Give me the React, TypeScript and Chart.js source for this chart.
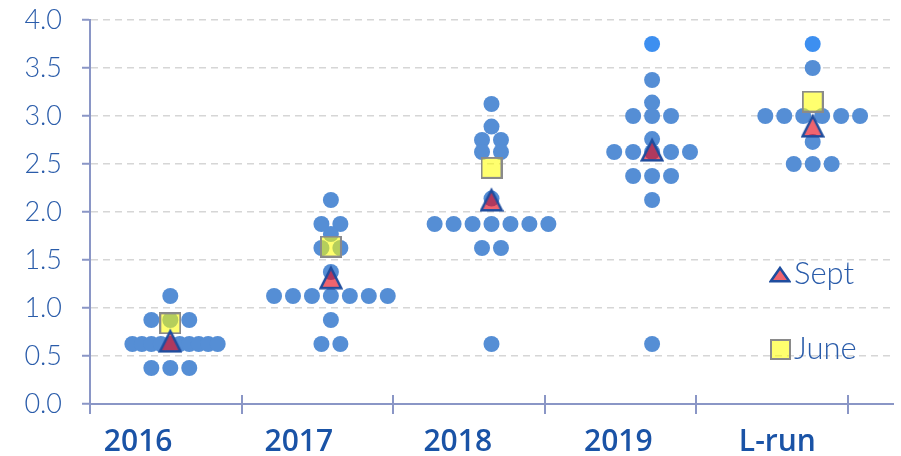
import { useEffect, useRef } from 'react';
import { Chart, registerables } from 'chart.js';

Chart.register(...registerables);

// ---------- data ----------
const CATEGORIES = ['2016', '2017', '2018', '2019', 'L-run'];
// positions (in category units)
const LABEL_POS = [0.3, 1.3, 2.29, 3.29, 4.28];
const TICK_MARKS = [0, 0.946, 1.887, 2.833, 3.773, 4.72];

// dots: horizontal slot (in dot widths from the column centre) and value
const DOTS_2016_SLOT = [0, -1, 0, 1, -2, -1.5, -1, -0.5, 0, 0.5, 1, 1.5, 2, 2.5, -1, 0, 1];
const DOTS_2016_VAL = [1.125, 0.875, 0.875, 0.875, 0.625, 0.625, 0.625, 0.625, 0.625, 0.625, 0.625, 0.625, 0.625, 0.625, 0.375, 0.375, 0.375];

const DOTS_2017_SLOT = [0, -0.5, 0.5, 0, -0.5, 0.5, 0, -3, -2, -1, 0, 1, 2, 3, 0, -0.5, 0.5];
const DOTS_2017_VAL = [2.125, 1.875, 1.875, 1.77, 1.625, 1.625, 1.375, 1.125, 1.125, 1.125, 1.125, 1.125, 1.125, 1.125, 0.875, 0.625, 0.625];

const DOTS_2018_SLOT = [0, 0, -0.5, 0.5, -0.5, 0.5, 0, -3, -2, -1, 0, 1, 2, 3, -0.5, 0.5, 0];
const DOTS_2018_VAL = [3.125, 2.89, 2.75, 2.75, 2.625, 2.625, 2.14, 1.875, 1.875, 1.875, 1.875, 1.875, 1.875, 1.875, 1.625, 1.625, 0.625];

const DOTS_2019_SLOT = [0, 0, 0, -1, 0, 1, 0, -2, -1, 0, 1, 2, -1, 0, 1, 0, 0];
const DOTS_2019_VAL = [3.75, 3.375, 3.14, 3.0, 3.0, 3.0, 2.76, 2.625, 2.625, 2.625, 2.625, 2.625, 2.375, 2.375, 2.375, 2.125, 0.625];

const DOTS_LRUN_SLOT = [0, 0, -2.5, -1.5, -0.5, 0.5, 1.5, 2.5, 0, -1, 0, 1];
const DOTS_LRUN_VAL = [3.75, 3.5, 3.0, 3.0, 3.0, 3.0, 3.0, 3.0, 2.73, 2.5, 2.5, 2.5];

const SEPT_VAL = [0.66, 1.32, 2.13, 2.65, 2.9];
const JUNE_VAL = [0.84, 1.64, 2.46, null, 3.15];

const DOT_SLOTS = [DOTS_2016_SLOT, DOTS_2017_SLOT, DOTS_2018_SLOT, DOTS_2019_SLOT, DOTS_LRUN_SLOT];
const DOT_VALS = [DOTS_2016_VAL, DOTS_2017_VAL, DOTS_2018_VAL, DOTS_2019_VAL, DOTS_LRUN_VAL];

// ---------- style ----------
const DOT_STEP = 0.118; // one dot width in category units
const AXIS_COLOR = '#8a96c6';
const GRID_COLOR = '#d6d6d6';
const DOT_COLOR = '#558ed5';
const DOT_HI_COLOR = '#3d8ff0';
const TEXT_BLUE = '#2a5caa';
const LABEL_BLUE = '#1a53a6';
const THIN_FONT = 'Lato, "Open Sans", sans-serif';

function makeTriangle(w: number, h: number, lw: number) {
  const c = document.createElement('canvas');
  c.width = w;
  c.height = h;
  const g = c.getContext('2d')!;
  g.beginPath();
  g.moveTo(w / 2, lw * 1.2);
  g.lineTo(w - lw / 2 - 0.5, h - lw / 2 - 0.5);
  g.lineTo(lw / 2 + 0.5, h - lw / 2 - 0.5);
  g.closePath();
  g.fillStyle = 'rgba(231,5,21,0.62)';
  g.fill();
  g.lineWidth = lw;
  g.lineJoin = 'miter';
  g.strokeStyle = '#1f4d9e';
  g.stroke();
  return c;
}

function makeSquare(s: number, lw: number) {
  const c = document.createElement('canvas');
  c.width = s;
  c.height = s;
  const g = c.getContext('2d')!;
  g.fillStyle = 'rgba(255,255,0,0.57)';
  g.fillRect(lw / 2, lw / 2, s - lw, s - lw);
  g.lineWidth = lw;
  g.strokeStyle = '#8a8a8a';
  g.strokeRect(lw / 2, lw / 2, s - lw, s - lw);
  return c;
}

export default function App() {
  const ref = useRef<HTMLCanvasElement | null>(null);

  useEffect(() => {
    document.body.style.margin = '0';
    const canvas = ref.current;
    if (!canvas) return;

    const tri = makeTriangle(24, 25, 2.5);
    const sq = makeSquare(22, 2);
    const triLegend = makeTriangle(22, 18, 2.5);
    const sqLegend = makeSquare(21, 2);

    const dotData: { x: number; y: number }[] = [];
    DOT_VALS.forEach((vals, ci) => {
      vals.forEach((v, i) => {
        dotData.push({ x: ci + 0.5 + DOT_SLOTS[ci][i] * DOT_STEP, y: v });
      });
    });
    const septData = SEPT_VAL.map((v, i) => ({ x: i + 0.5, y: v }));
    const juneData = JUNE_VAL.map((v, i) => ({ x: i + 0.5, y: v })).filter((p) => p.y !== null) as { x: number; y: number }[];

    const overlay = {
      id: 'overlay',
      afterDraw(chart: any) {
        const { ctx, chartArea, scales } = chart;
        const xs = scales.x;
        ctx.save();
        ctx.strokeStyle = AXIS_COLOR;
        ctx.lineWidth = 2;
        TICK_MARKS.forEach((v) => {
          const px = Math.round(xs.getPixelForValue(v));
          ctx.beginPath();
          ctx.moveTo(px, chartArea.bottom - 9);
          ctx.lineTo(px, chartArea.bottom + 10);
          ctx.stroke();
        });
        // legend
        const lx = chartArea.right - 113;
        ctx.drawImage(triLegend, lx - 11, 265);
        ctx.drawImage(sqLegend, lx - 10, 339);
        ctx.fillStyle = TEXT_BLUE;
        ctx.font = `300 31px ${THIN_FONT}`;
        ctx.textAlign = 'left';
        ctx.textBaseline = 'alphabetic';
        ctx.fillText('Sept', lx + 14, 284);
        ctx.fillText('June', lx + 14, 359);
        ctx.restore();
      },
    };

    const chart = new Chart(canvas, {
      type: 'scatter',
      data: {
        datasets: [
          {
            label: 'Sept',
            data: septData,
            pointStyle: tri as any,
            pointRadius: 12,
            order: 0,
          },
          {
            label: 'June',
            data: juneData,
            pointStyle: sq as any,
            pointRadius: 11,
            order: 1,
          },
          {
            label: 'Participants',
            data: dotData,
            pointStyle: 'circle',
            pointRadius: 8,
            pointBorderWidth: 0,
            pointBackgroundColor: (ctx: any) => (ctx.raw && ctx.raw.y > 3.7 ? DOT_HI_COLOR : DOT_COLOR),
            order: 2,
          },
        ],
      },
      plugins: [overlay],
      options: {
        responsive: false,
        animation: false,
        events: [],
        layout: { autoPadding: false, padding: { top: 20, right: 8, left: 0, bottom: 0 } },
        plugins: {
          legend: { display: false },
          tooltip: { enabled: false },
        },
        scales: {
          x: {
            type: 'linear',
            min: 0,
            max: 5,
            afterBuildTicks: (scale: any) => {
              scale.ticks = LABEL_POS.map((v) => ({ value: v }));
            },
            afterFit: (scale: any) => {
              scale.height = 52;
              scale.paddingLeft = 0;
              scale.paddingRight = 0;
            },
            grid: { display: false },
            border: { display: true, color: AXIS_COLOR, width: 2 },
            ticks: {
              autoSkip: false,
              maxRotation: 0,
              minRotation: 0,
              padding: 12,
              color: LABEL_BLUE,
              font: { family: '"Open Sans", sans-serif', size: 30, weight: '600' as any },
              callback: (_v: any, i: number) => CATEGORIES[i],
            },
          },
          y: {
            min: 0,
            max: 4,
            afterFit: (scale: any) => {
              scale.width = 90;
              scale.paddingTop = 0;
              scale.paddingBottom = 0;
            },
            grid: {
              color: (ctx: any) => (ctx.tick && ctx.tick.value === 0 ? 'rgba(0,0,0,0)' : GRID_COLOR),
              lineWidth: 1.5,
              tickColor: AXIS_COLOR,
              tickLength: 8,
              tickWidth: 2,
              drawTicks: true,
            },
            border: { display: true, color: AXIS_COLOR, width: 2, dash: [7, 5] },
            ticks: {
              stepSize: 0.5,
              padding: 20,
              color: TEXT_BLUE,
              font: { family: THIN_FONT, size: 27, weight: '300' as any },
              callback: (v: any) => Number(v).toFixed(1),
            },
          },
        },
      },
    } as any);

    return () => chart.destroy();
  }, []);

  return (
    <div style={{ width: 901, height: 456 }}>
      <canvas ref={ref} width={901} height={456} />
    </div>
  );
}
